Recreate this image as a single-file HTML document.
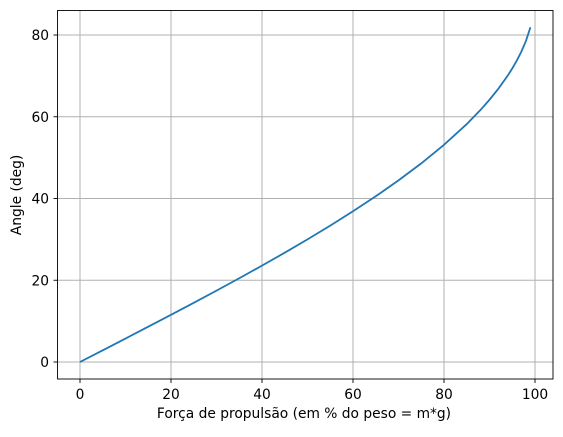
<!DOCTYPE html>
<html><head><meta charset="utf-8"><style>
body{margin:0;background:#fff;}
svg text{font-family:"DejaVu Sans","Liberation Sans",sans-serif;font-size:13.8px;fill:#000;}
</style></head><body>
<svg width="563" height="432" xmlns="http://www.w3.org/2000/svg">
<g id="grid"></g>
<g id="ticks"></g>
<path id="line" fill="none" stroke="#1f77b4" stroke-width="1.8"/>
<rect x="57.5" y="10.5" width="495.5" height="368.5" fill="none" stroke="#000" stroke-width="0.9"/>
<text x="304" y="418" text-anchor="middle">Força de propulsão (em % do peso = m*g)</text>
<text transform="translate(21,195) rotate(-90)" text-anchor="middle">Angle (deg)</text>
</svg>
<script>
const xVals=[0,5,10,15,20,25,30,35,40,45,50,55,60,65,70,75,80,85,88,90,92,94,95,96,97,98,99];
const yVals=[0,2.87,5.74,8.63,11.54,14.48,17.46,20.49,23.58,26.74,30,33.37,36.87,40.54,44.43,48.59,53.13,58.21,61.64,64.16,66.93,70.05,71.81,73.74,75.93,78.52,81.89];
const xTicks=[0,20,40,60,80,100];
const yTicks=[0,20,40,60,80];
const sx=v=>80+v*4.55;
const sy=v=>362-v*4.0875;
const NS="http://www.w3.org/2000/svg";
const grid=document.getElementById('grid'),ticks=document.getElementById('ticks');
function mk(t,a,p){const e=document.createElementNS(NS,t);for(const k in a)e.setAttribute(k,a[k]);p.appendChild(e);return e;}
xTicks.forEach(t=>{
 const g=mk('line',{x1:sx(t),x2:sx(t),y1:10.5,y2:379,stroke:'#b0b0b0','stroke-width':1},grid);
 
 
 const k=mk('line',{x1:sx(t),x2:sx(t),y1:379,y2:383,stroke:'#000','stroke-width':0.9},ticks);
 
 
 const l=mk('text',{x:sx(t),y:399,'text-anchor':'middle'},ticks);l.textContent=t;
 
 
});
yTicks.forEach(t=>{
 const g=mk('line',{x1:57.5,x2:553,y1:sy(t),y2:sy(t),stroke:'#b0b0b0','stroke-width':1},grid);
 
 
 const k=mk('line',{x1:53.5,x2:57.5,y1:sy(t),y2:sy(t),stroke:'#000','stroke-width':0.9},ticks);
 
 
 const l=mk('text',{x:49,y:sy(t)+5,'text-anchor':'end'},ticks);l.textContent=t;
 
 
});
document.getElementById('line').setAttribute('d',xVals.map((x,i)=>(i?'L':'M')+sx(x)+','+sy(yVals[i])).join(''));
</script>
</body></html>
